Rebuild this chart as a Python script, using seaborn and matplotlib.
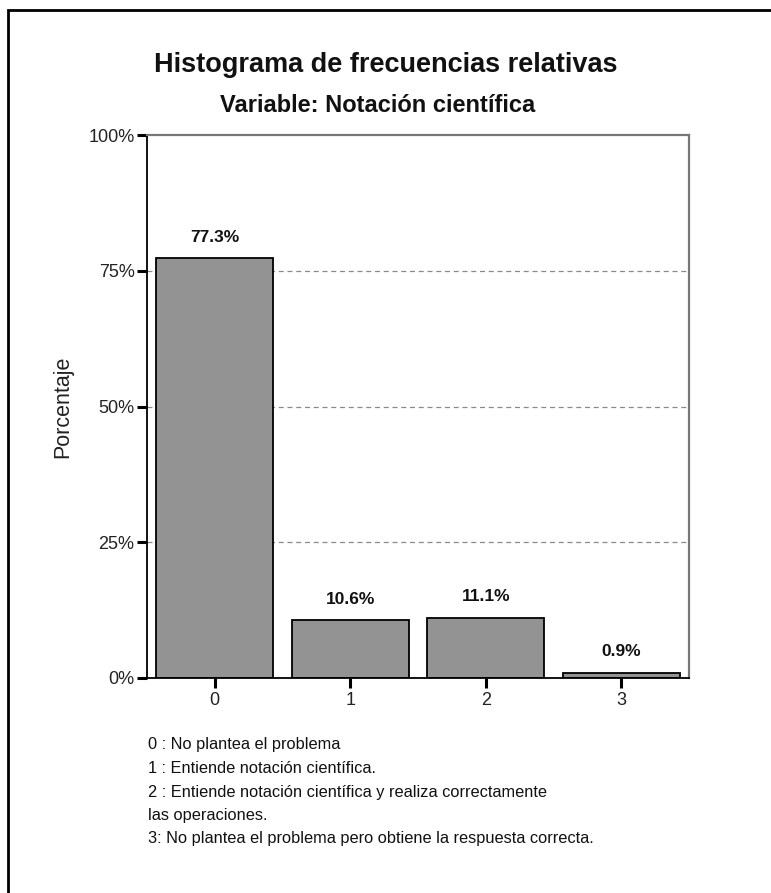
import matplotlib
matplotlib.use('Agg')
import matplotlib.pyplot as plt
import seaborn as sns
import pandas as pd
from matplotlib.patches import Rectangle
from matplotlib.ticker import FuncFormatter

# Data
categories = ['0', '1', '2', '3']
percentages = [77.3, 10.6, 11.1, 0.9]
bar_labels = ['77.3%', '10.6%', '11.1%', '0.9%']
y_ticks = [0, 25, 50, 75, 100]
legend_lines = [
    '0 : No plantea el problema',
    '1 : Entiende notación científica.',
    '2 : Entiende notación científica y realiza correctamente',
    'las operaciones.',
    '3: No plantea el problema pero obtiene la respuesta correcta.',
]
title = 'Histograma de frecuencias relativas'
subtitle = 'Variable: Notación científica'

df = pd.DataFrame({'cat': categories, 'pct': percentages})

sns.set_style('white')
plt.rcParams['font.family'] = ['Liberation Sans', 'DejaVu Sans']

W, H = 771, 893
fig = plt.figure(figsize=(W / 100, H / 100), dpi=100)
ax = fig.add_axes([147 / W, 1 - 678 / H, (689 - 147) / W, (678 - 135) / H])

sns.barplot(data=df, x='cat', y='pct', ax=ax, color='#939393', saturation=1,
            edgecolor='black', linewidth=1.3, width=0.86)

for i, (v, lab) in enumerate(zip(percentages, bar_labels)):
    ax.text(i, v + 3.9, lab, ha='center', va='center', fontsize=12.5,
            fontweight='bold', color='#111111')

ax.set_xlim(-0.5, 3.5)
ax.set_ylim(0, 100)
ax.set_yticks(y_ticks)
ax.yaxis.set_major_formatter(FuncFormatter(lambda v, _: f'{v:.0f}%'))
for y in y_ticks[1:-1]:
    ax.axhline(y, color='#8a8a8a', linestyle=(0, (4, 3)), linewidth=0.9, zorder=0)

ax.set_xlabel('')
ax.set_ylabel('Porcentaje', fontsize=15.5, color='#222222')
ax.yaxis.set_label_coords(-(147 - 73) / (689 - 147), 0.5)
ax.tick_params(axis='both', direction='out', length=7, width=2.2, color='black',
               labelsize=13, labelcolor='#222222', left=True, bottom=True)
ax.tick_params(axis='y', pad=2)
ax.tick_params(axis='x', pad=3)

for side in ['left', 'bottom']:
    ax.spines[side].set_color('black')
    ax.spines[side].set_linewidth(1.3)
for side in ['top', 'right']:
    ax.spines[side].set_color('#777777')
    ax.spines[side].set_linewidth(1.6)

fig.text(386 / W, 1 - 65 / H, title, ha='center', va='center',
         fontsize=19.5, fontweight='bold', color='#111111')
fig.text(378 / W, 1 - 105 / H, subtitle, ha='center', va='center',
         fontsize=17, fontweight='bold', color='#111111')

for k, line in enumerate(legend_lines):
    fig.text(148 / W, 1 - (745 + 23.5 * k) / H, line, ha='left', va='center',
             fontsize=11.8, color='#111111')

# outer frame
fig.patches.append(Rectangle((8 / W, -0.05), 1.1, 1 - 10 / H + 0.05,
                             transform=fig.transFigure, fill=False,
                             edgecolor='black', linewidth=2))

fig.savefig('out.png', dpi=100)
